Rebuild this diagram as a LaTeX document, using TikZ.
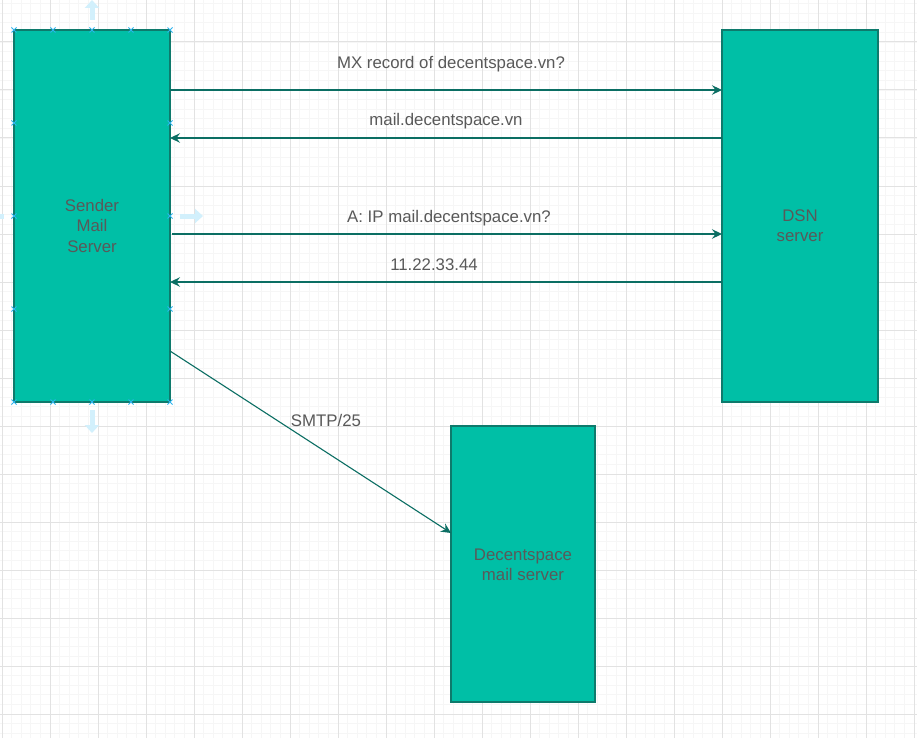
\documentclass[tikz,border=0pt]{standalone}
\usepackage{fontspec}
\setmainfont{Liberation Sans}
\usetikzlibrary{arrows.meta}
\definecolor{boxfill}{HTML}{00BFA6}
\definecolor{boxline}{HTML}{0E7A6C}
\definecolor{arrowc}{HTML}{0B6E63}
\definecolor{txt}{HTML}{595959}
\definecolor{gridmaj}{HTML}{E2E2E2}
\definecolor{gridmin}{HTML}{F6F6F6}
\definecolor{handle}{HTML}{2DB4EE}
\definecolor{hint}{HTML}{D2F0FC}
\begin{document}
\begin{tikzpicture}[x=1pt,y=-1pt,
  box/.style={draw=boxline,fill=boxfill,line width=1.1pt,inner sep=0},
  boxtxt/.style={text=txt,align=center,font=\fontsize{16.8}{20.5}\selectfont,inner sep=0,anchor=base},
  lbl/.style={text=txt,font=\fontsize{16.8}{20.5}\selectfont,inner sep=0,anchor=base},
  conn/.style={draw=arrowc,line width=1.1pt,-{Stealth[length=10pt,width=9.5pt,inset=3.5pt]}},
  hnd/.style={draw=handle,line width=0.9pt},
  hintarrow/.style={draw=hint,line width=5pt,-{Triangle[length=8pt,width=14pt]}}
]
\useasboundingbox (0,0) rectangle (917,738);
\fill[white] (0,0) rectangle (917,738);
% grid
\foreach \i in {0,...,96} {
  \draw[gridmin,line width=0.8pt] ({2+9.6*\i},0) -- ({2+9.6*\i},738);
}
\foreach \i in {0,...,78} {
  \draw[gridmin,line width=0.8pt] (0,{-6+9.6*\i}) -- (917,{-6+9.6*\i});
}
\foreach \i in {0,...,19} {
  \draw[gridmaj,line width=1pt] ({2+48*\i},0) -- ({2+48*\i},738);
}
\foreach \i in {1,...,15} {
  \draw[gridmaj,line width=1pt] (0,{-6+48*\i}) -- (917,{-6+48*\i});
}
% boxes
\path[box] (14,30) rectangle (170,402);
\node[draw=none,minimum width=156pt,minimum height=372pt,inner sep=0] (sender) at (92,216) {};
\path[box] (722,30) rectangle (878,402);
\node[draw=none,minimum width=156pt,minimum height=372pt,inner sep=0] (dsn) at (800,216) {};
\path[box] (451,426) rectangle (595,702);
\node[draw=none,minimum width=144pt,minimum height=276pt,inner sep=0] (dec) at (523,564) {};
\node[boxtxt] (sendertxt) at (92,252) {Sender\\Mail\\Server};
\node[boxtxt] (dsntxt) at (800,241.7) {DSN\\server};
\node[boxtxt] (dectxt) at (523,580.7) {Decentspace\\mail server};
% connectors
\coordinate (s1) at (170,90); \coordinate (d1) at (722,90);
\coordinate (s2) at (170,138); \coordinate (d2) at (722,138);
\coordinate (s3) at (172,234); \coordinate (d3) at (722,234);
\coordinate (s4) at (170,282); \coordinate (d4) at (722,282);
\coordinate (s5) at (170,351); \coordinate (e5) at (451,533);
\draw[conn] (s1) -- (d1);
\draw[conn] (d2) -- (s2);
\draw[conn] (s3) -- (d3);
\draw[conn] (d4) -- (s4);
\draw[conn] (s5) -- (e5);
\node[lbl] (l1) at (451,69) {MX record of decentspace.vn?};
\node[lbl] (l2) at (446,126) {mail.decentspace.vn};
\node[lbl] (l3) at (449,222.3) {A: IP mail.decentspace.vn?};
\node[lbl] (l4) at (434,270) {11.22.33.44};
\node[lbl] (l5) at (326,426) {SMTP/25};
% selection handles
\foreach \x in {14,53,92,131,170} {
  \foreach \y in {30,402} {
    \draw[hnd] (\x-2.5,\y-2.5) -- (\x+2.5,\y+2.5) (\x-2.5,\y+2.5) -- (\x+2.5,\y-2.5);
  }
}
\foreach \x in {14,170} {
  \foreach \y in {123,216,309} {
    \draw[hnd] (\x-2.5,\y-2.5) -- (\x+2.5,\y+2.5) (\x-2.5,\y+2.5) -- (\x+2.5,\y-2.5);
  }
}
% hint arrows
\coordinate (ht0) at (92,20); \coordinate (ht1) at (92,0);
\coordinate (hr0) at (180,216); \coordinate (hr1) at (203,216);
\coordinate (hb0) at (92,410); \coordinate (hb1) at (92,433);
\draw[hintarrow] (ht0) -- (ht1);
\draw[hintarrow] (hr0) -- (hr1);
\draw[hintarrow] (hb0) -- (hb1);
\draw[draw=hint,line width=5pt] (0,216) -- (4,216);
\end{tikzpicture}
\end{document}
